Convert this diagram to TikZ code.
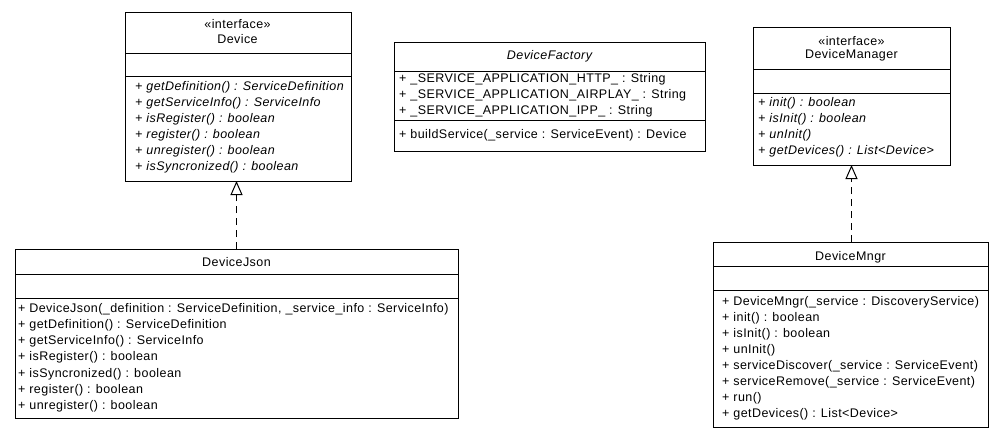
\documentclass[tikz,border=0pt]{standalone}
\usepackage{fontspec}
\setmainfont{Liberation Sans}[LetterSpace=3.5]
\usetikzlibrary{arrows.meta}
\begin{document}
\begin{tikzpicture}[x=1pt,y=-1pt,
  box/.style={draw, line width=1pt, anchor=north west, inner sep=0pt, outer sep=0pt},
  txt/.style={anchor=west, inner sep=0pt, font=\fontsize{12.5}{14}\selectfont},
  itxt/.style={txt, font=\fontsize{12.5}{14}\selectfont\itshape},
  ctxt/.style={inner sep=0pt, font=\fontsize{12.5}{14}\selectfont},
  sep/.style={line width=1pt},
  realize/.style={line width=1pt, dash pattern=on 7pt off 5pt,
    -{Triangle[open, length=14pt, width=12pt, line width=1pt]}}]
\useasboundingbox (0,0) rectangle (1004,437);

% ---------- Device ----------
\node[box, minimum width=226pt, minimum height=169pt] (device) at (125,12) {};
\draw[sep] (device.west |- 0,53) -- (device.east |- 0,53);
\draw[sep] (device.west |- 0,76) -- (device.east |- 0,76);
\node[ctxt] (deviceS) at (237.5,24) {«interface»};
\node[ctxt] (deviceN) at (237.5,39) {Device};
\node[itxt] (devm1) at (135,87.5) {+ getDefinition() : ServiceDefinition};
\node[itxt] (devm2) at (135,103.5) {+ getServiceInfo() : ServiceInfo};
\node[itxt] (devm3) at (135,119.5) {+ isRegister() : boolean};
\node[itxt] (devm4) at (135,135.5) {+ register() : boolean};
\node[itxt] (devm5) at (135,151.5) {+ unregister() : boolean};
\node[itxt] (devm6) at (135,167.5) {+ isSyncronized() : boolean};

% ---------- DeviceFactory ----------
\node[box, minimum width=311pt, minimum height=109pt] (factory) at (394,42) {};
\draw[sep] (factory.west |- 0,71) -- (factory.east |- 0,71);
\draw[sep] (factory.west |- 0,120) -- (factory.east |- 0,120);
\node[ctxt, font=\fontsize{12.5}{14}\selectfont\itshape] (factoryN) at (549.5,56) {DeviceFactory};
\node[txt] (faf1) at (399,79.5) {+ \_SERVICE\_APPLICATION\_HTTP\_ : String};
\node[txt] (faf2) at (399,95.5) {+ \_SERVICE\_APPLICATION\_AIRPLAY\_ : String};
\node[txt] (faf3) at (399,111.5) {+ \_SERVICE\_APPLICATION\_IPP\_ : String};
\node[txt] (fam1) at (399,135.5) {+ buildService(\_service : ServiceEvent) : Device};

% ---------- DeviceManager ----------
\node[box, minimum width=197pt, minimum height=138pt] (manager) at (753,27) {};
\draw[sep] (manager.west |- 0,69) -- (manager.east |- 0,69);
\draw[sep] (manager.west |- 0,93) -- (manager.east |- 0,93);
\node[ctxt] (managerS) at (851.5,41) {«interface»};
\node[ctxt] (managerN) at (851.5,55) {DeviceManager};
\node[itxt] (manm1) at (758,103) {+ init() : boolean};
\node[itxt] (manm2) at (758,119) {+ isInit() : boolean};
\node[itxt] (manm3) at (758,135) {+ unInit()};
\node[itxt] (manm4) at (758,151) {+ getDevices() : List<Device>};

% ---------- DeviceJson ----------
\node[box, minimum width=443pt, minimum height=169pt] (json) at (15,249) {};
\draw[sep] (json.west |- 0,274) -- (json.east |- 0,274);
\draw[sep] (json.west |- 0,298) -- (json.east |- 0,298);
\node[ctxt] (jsonN) at (236.5,262) {DeviceJson};
\node[txt] (jsm1) at (18,309) {+ DeviceJson(\_definition : ServiceDefinition, \_service\_info : ServiceInfo)};
\node[txt] (jsm2) at (18,325.2) {+ getDefinition() : ServiceDefinition};
\node[txt] (jsm3) at (18,341.4) {+ getServiceInfo() : ServiceInfo};
\node[txt] (jsm4) at (18,357.6) {+ isRegister() : boolean};
\node[txt] (jsm5) at (18,373.8) {+ isSyncronized() : boolean};
\node[txt] (jsm6) at (18,390) {+ register() : boolean};
\node[txt] (jsm7) at (18,406.2) {+ unregister() : boolean};

% ---------- DeviceMngr ----------
\node[box, minimum width=275pt, minimum height=185pt] (mngr) at (713,242) {};
\draw[sep] (mngr.west |- 0,266) -- (mngr.east |- 0,266);
\draw[sep] (mngr.west |- 0,290) -- (mngr.east |- 0,290);
\node[ctxt] (mngrN) at (850.5,257) {DeviceMngr};
\node[txt] (mgm1) at (722,302) {+ DeviceMngr(\_service : DiscoveryService)};
\node[txt] (mgm2) at (722,318.1) {+ init() : boolean};
\node[txt] (mgm3) at (722,334.2) {+ isInit() : boolean};
\node[txt] (mgm4) at (722,350.3) {+ unInit()};
\node[txt] (mgm5) at (722,366.4) {+ serviceDiscover(\_service : ServiceEvent)};
\node[txt] (mgm6) at (722,382.5) {+ serviceRemove(\_service : ServiceEvent)};
\node[txt] (mgm7) at (722,398.6) {+ run()};
\node[txt] (mgm8) at (722,414.7) {+ getDevices() : List<Device>};

% ---------- realizations ----------
\draw[realize] (json.north) -- (json.north |- device.south);
\draw[realize] (mngr.north -| manager.south) -- (manager.south);
\end{tikzpicture}
\end{document}
